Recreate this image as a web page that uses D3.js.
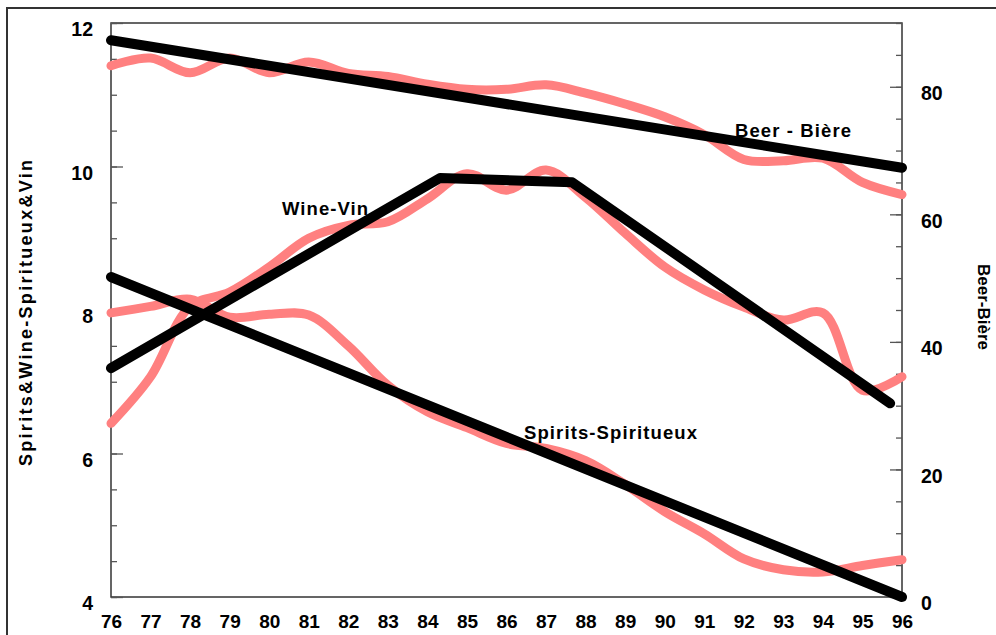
<!DOCTYPE html>
<html>
<head>
<meta charset="utf-8">
<script src="https://cdn.jsdelivr.net/npm/d3@7"></script>
<style>
  body { margin: 0; background: #fff; }
  text { font-family: "Liberation Sans", Arial, sans-serif; font-weight: bold; fill: #000; }
</style>
</head>
<body>
<div id="chart"></div>
<script>
// Years on the x axis
const years = d3.range(76, 97);

// Actual consumption (pink lines)
const beer = [83.3, 84.5, 82.2, 84.5, 82.2, 83.9, 82.1, 81.6, 80.4, 79.6, 79.6, 80.3, 79.0, 77.3, 75.3, 72.5, 68.6, 68.4, 68.8, 65.0, 63.1];
const wine = [6.42, 7.07, 8.05, 8.25, 8.6, 9.0, 9.18, 9.23, 9.55, 9.9, 9.67, 9.95, 9.57, 9.07, 8.6, 8.28, 8.04, 7.86, 7.96, 6.88, 7.07];
const spirits = [7.96, 8.05, 8.15, 7.9, 7.94, 7.93, 7.5, 6.95, 6.58, 6.36, 6.14, 6.07, 5.9, 5.57, 5.19, 4.88, 4.53, 4.38, 4.35, 4.44, 4.52];

// Trend lines (black)
const beerTrendYears = [76, 96];
const beerTrend = [87.3, 67.3];
const wineTrendYears = [76, 84.32, 87.66, 95.7];
const wineTrend = [7.19, 9.84, 9.78, 6.7];
const spiritsTrendYears = [76, 96];
const spiritsTrend = [8.46, 4.0];

const xTicks = d3.range(76, 97);
const leftTicks = [4, 6, 8, 10, 12];
const rightTicks = [0, 20, 40, 60, 80];

const width = 996;
const height = 635;

const svg = d3.select("#chart")
    .append("svg")
    .attr("width", width)
    .attr("height", height);

// outer frame
svg.append("rect")
    .attr("x", 7).attr("y", 8)
    .attr("width", 1000).attr("height", 700)
    .attr("fill", "none")
    .attr("stroke", "#333")
    .attr("stroke-width", 2);

const x = d3.scaleLinear().domain([76, 96]).range([111, 902]);
const yL = d3.scaleLinear().domain([4, 12]).range([597, 23]);
const yR = d3.scaleLinear().domain([0, 90]).range([597, 23]);

// plot box
svg.append("rect")
    .attr("x", 111).attr("y", 23)
    .attr("width", 791).attr("height", 574)
    .attr("fill", "none")
    .attr("stroke", "#333")
    .attr("stroke-width", 1.5);

// left axis: minor + major ticks pointing inward
svg.append("g")
    .attr("transform", "translate(111,0)")
    .call(d3.axisLeft(yL).tickValues(d3.range(4, 12.01, 0.5)).tickSizeInner(-6).tickSizeOuter(0).tickFormat(""))
    .call(g => g.select(".domain").remove())
    .call(g => g.selectAll("line").attr("stroke", "#555").attr("stroke-width", 1.3));

svg.append("g")
    .attr("transform", "translate(111,0)")
    .call(d3.axisLeft(yL).tickValues(leftTicks).tickSizeInner(-12).tickSizeOuter(0).tickPadding(18).tickFormat(d3.format("d")))
    .call(g => g.select(".domain").remove())
    .call(g => g.selectAll("line").attr("stroke", "#555").attr("stroke-width", 1.3))
    .call(g => g.selectAll("text").attr("font-size", 19.5).attr("dy", "0.65em").attr("font-family", null));

// right axis
svg.append("g")
    .attr("transform", "translate(902,0)")
    .call(d3.axisRight(yR).tickValues(d3.range(0, 90.1, 5)).tickSizeInner(-6).tickSizeOuter(0).tickFormat(""))
    .call(g => g.select(".domain").remove())
    .call(g => g.selectAll("line").attr("stroke", "#555").attr("stroke-width", 1.3));

svg.append("g")
    .attr("transform", "translate(902,0)")
    .call(d3.axisRight(yR).tickValues(rightTicks).tickSizeInner(-12).tickSizeOuter(0).tickPadding(19).tickFormat(d3.format("d")))
    .call(g => g.select(".domain").remove())
    .call(g => g.selectAll("line").attr("stroke", "#555").attr("stroke-width", 1.3))
    .call(g => g.selectAll("text").attr("font-size", 19.5).attr("dy", "0.65em").attr("font-family", null));

// bottom axis labels
svg.append("g")
    .attr("transform", "translate(0,597)")
    .call(d3.axisBottom(x).tickValues(xTicks).tickSize(0).tickPadding(18).tickFormat(d3.format("d")))
    .call(g => g.select(".domain").remove())
    .call(g => g.selectAll("text").attr("font-size", 19).attr("font-family", null));

// axis titles
svg.append("text")
    .attr("transform", "translate(32,313) rotate(-90)")
    .attr("text-anchor", "middle")
    .attr("font-size", 18)
    .attr("textLength", 306)
    .attr("lengthAdjust", "spacing")
    .text("Spirits&Wine-Spiritueux&Vin");

svg.append("text")
    .attr("transform", "translate(978,307) rotate(90)")
    .attr("text-anchor", "middle")
    .attr("font-size", 17)
    .text("Beer-Bière");

// lines
const lineR = d3.line().x(d => x(d[0])).y(d => yR(d[1]));
const lineL = d3.line().x(d => x(d[0])).y(d => yL(d[1]));
const smoothR = d3.line().x(d => x(d[0])).y(d => yR(d[1])).curve(d3.curveCatmullRom.alpha(0.5));
const smoothL = d3.line().x(d => x(d[0])).y(d => yL(d[1])).curve(d3.curveCatmullRom.alpha(0.5));

const pink = "#ff8080";

function draw(path, data, color, w) {
    svg.append("path")
        .datum(data)
        .attr("d", path)
        .attr("fill", "none")
        .attr("stroke", color)
        .attr("stroke-width", w)
        .attr("stroke-linecap", "round")
        .attr("stroke-linejoin", "round");
}

draw(smoothR, years.map((y, i) => [y, beer[i]]), pink, 9);
draw(smoothL, years.map((y, i) => [y, wine[i]]), pink, 9);
draw(smoothL, years.map((y, i) => [y, spirits[i]]), pink, 9);

draw(lineR, beerTrendYears.map((y, i) => [y, beerTrend[i]]), "#000", 10);
draw(lineL, wineTrendYears.map((y, i) => [y, wineTrend[i]]), "#000", 10);
draw(lineL, spiritsTrendYears.map((y, i) => [y, spiritsTrend[i]]), "#000", 10);

// series labels
function label(xp, yp, len, txt) {
    svg.append("text")
        .attr("x", xp).attr("y", yp)
        .attr("font-size", 18.5)
        .attr("textLength", len)
        .attr("lengthAdjust", "spacing")
        .text(txt);
}
label(282, 215, 86, "Wine-Vin");
label(735, 137, 116, "Beer - Bière");
label(524, 439, 173, "Spirits-Spiritueux");
</script>
</body>
</html>
